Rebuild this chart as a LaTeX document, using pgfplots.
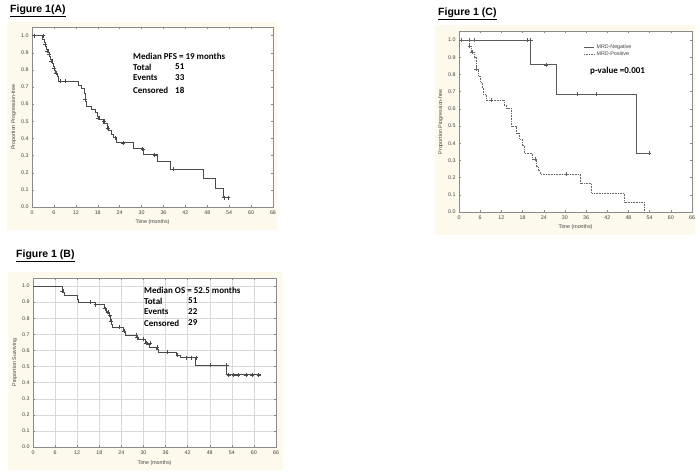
\documentclass[border=0pt]{standalone}
\usepackage{pgfplots}
\pgfplotsset{compat=1.18}
\usepackage{fontspec}
\setmainfont{Liberation Sans}
\newfontfamily\calibri{Carlito}
\definecolor{cream}{HTML}{FDF9EC}
\definecolor{frm}{HTML}{8A8A8A}
\definecolor{kml}{HTML}{4A4A4A}
\pgfplotsset{
  kmaxis/.style={
    scale only axis, anchor=south west,
    xmin=0, xmax=66, ymin=0, ymax=1.05,
    xtick={0,6,12,18,24,30,36,42,48,54,60,66},
    ytick={0,0.1,0.2,0.3,0.4,0.5,0.6,0.7,0.8,0.9,1.0},
    yticklabel style={/pgf/number format/.cd, fixed, fixed zerofill, precision=1},
    /pgf/number format/assume math mode=true,
    tick label style={font=\fontsize{5.3}{6}\selectfont, text=black!75},
    label style={font=\fontsize{5.3}{6}\selectfont, text=black!75},
    axis line style={frm},
    tick style={frm, line width=0.3pt},
    tick align=inside, major tick length=2pt,
    tick pos=both,
    axis background/.style={fill=white},
    xlabel={Time (months)},
    xlabel style={yshift=1pt},
    ylabel style={yshift=-2pt},
  },
  kmline/.style={kml, line width=0.6pt, const plot, no marks},
  cens/.style={kml, only marks, mark=+, mark size=2pt, mark options={line width=0.4pt}, forget plot},
}
\tikzset{
  anno/.style={anchor=west, font=\calibri\bfseries\fontsize{9}{10}\selectfont, inner sep=0},
  ttl/.style={anchor=west, font=\bfseries\fontsize{10.5}{11}\selectfont, inner sep=0},
}
\begin{document}
\begin{tikzpicture}
\fill[white] (0pt,0pt) rectangle (700pt,475pt);
\path[use as bounding box] (0pt,0pt) rectangle (700pt,475pt);
\fill[cream] (7pt,245pt) rectangle (277pt,453pt);
\fill[cream] (435pt,240pt) rectangle (695pt,450pt);
\fill[cream] (8pt,5pt) rectangle (283pt,203pt);

% Titles
\node[ttl] at (10pt,464pt) {\underline{Figure 1(A)}};
\node[ttl] at (438pt,461pt) {\underline{Figure 1 (C)}};
\node[ttl] at (16pt,219pt) {\underline{Figure 1 (B)}};

% Panel A
\begin{axis}[kmaxis, at={(32pt,268pt)}, width=241pt, height=180pt, ylabel={Proportion Progression-free}]
\addplot[kmline] coordinates {
(0,1.0)(2.9,0.98)(3.3,0.96)(3.6,0.94)(4.0,0.92)(4.4,0.90)(4.8,0.88)(5.1,0.86)
(5.5,0.84)(5.9,0.82)(6.2,0.80)(6.5,0.78)(6.8,0.76)(7.2,0.735)(12.8,0.71)(13.4,0.69)
(14.3,0.665)(14.5,0.64)(14.7,0.615)(14.9,0.59)(16.2,0.57)(17.3,0.55)(17.8,0.53)
(18.3,0.51)(19.4,0.49)(20.5,0.47)(21.0,0.445)(21.6,0.425)(22.3,0.405)(23.0,0.375)
(27.8,0.34)(30.4,0.305)(34.3,0.265)(37.8,0.22)(46.8,0.165)(50.3,0.11)(52.3,0.055)(54.0,0.055)};
\addplot[cens] coordinates {
(0.5,1.0)(3.0,1.0)(3.5,0.95)(4.2,0.91)(4.7,0.89)(5.3,0.85)(6.0,0.81)(6.6,0.78)
(7.8,0.735)(9.2,0.735)(14.6,0.63)(18.0,0.52)(19.8,0.50)(20.7,0.46)(22.8,0.405)
(25.0,0.375)(30.3,0.34)(33.6,0.305)(38.8,0.22)(52.6,0.055)(53.8,0.055)};
\end{axis}
\node[anno] at (133pt,419pt) {Median PFS = 19 months};
\node[anno] at (133pt,408pt) {Total};
\node[anno] at (175pt,408pt) {51};
\node[anno] at (133pt,397pt) {Events};
\node[anno] at (175pt,397pt) {33};
\node[anno] at (133pt,385pt) {Censored};
\node[anno] at (175pt,385pt) {18};

% Panel C
\begin{axis}[kmaxis, at={(459pt,263pt)}, width=233pt, height=180.6pt, ylabel={Proportion Progression-free},
  legend style={at={(0.53,0.945)}, anchor=north west, draw=none, fill=none,
    font=\fontsize{5.3}{6}\selectfont, text=black!75, row sep=-2.5pt, inner sep=1pt},
  legend cell align=left,
  legend image code/.code={\draw[#1] (0pt,0pt) -- (10pt,0pt);}]
\addplot[kmline, line width=0.9pt, color=black!65] coordinates {
(0,1.0)(20.3,0.855)(27.7,0.685)(50.3,0.342)(53.8,0.342)};
\addlegendentry{MRD-Negative}
\addplot[kmline, densely dotted, color=black!60] coordinates {
(0,1.0)(2.9,0.965)(3.6,0.93)(4.2,0.90)(4.8,0.83)(5.6,0.79)(6.1,0.755)(6.5,0.72)(6.9,0.685)
(7.6,0.652)(12.8,0.62)(13.5,0.605)(14.7,0.497)(16.3,0.46)(17.1,0.425)(17.8,0.385)
(18.5,0.342)(20.8,0.307)(21.8,0.265)(22.5,0.24)(23.0,0.222)(34.3,0.164)(37.6,0.11)
(46.7,0.056)(52.4,0.0)};
\addlegendentry{MRD-Positive}
\addplot[cens, color=black!65] coordinates {(19.2,1.0)(20.3,1.0)(24.6,0.855)(33.6,0.685)(38.8,0.685)(53.8,0.342)};
\addplot[cens, color=black!60] coordinates {(0.6,1.0)(2.8,1.0)(4.2,1.0)(3.0,0.965)(3.6,0.93)(4.8,0.83)(9.0,0.652)(21.5,0.307)(30.3,0.222)};
\end{axis}
\node[anno] at (590pt,404pt) {p-value =0.001};

% Panel B
\begin{axis}[kmaxis, at={(33pt,28pt)}, width=243pt, height=169pt, ylabel={Proportion Surviving},
  grid=major, grid style={black!15, line width=0.4pt}]
\addplot[kmline] coordinates {
(0,1.0)(7.9,0.98)(8.1,0.96)(8.4,0.94)(12.0,0.92)(12.4,0.90)(16.8,0.885)(19.3,0.86)
(19.8,0.845)(20.1,0.83)(20.6,0.81)(21.0,0.79)(21.3,0.765)(21.6,0.745)(24.4,0.72)
(25.0,0.695)(28.2,0.68)(28.6,0.67)(30.4,0.65)(31.0,0.64)(31.5,0.62)(33.5,0.61)
(33.9,0.59)(39.0,0.57)(39.9,0.555)(44.2,0.507)(52.6,0.449)(61.8,0.449)};
\addplot[cens] coordinates {
(8.0,0.97)(15.6,0.90)(17.0,0.885)(19.5,0.86)(20.3,0.84)(20.8,0.82)(21.3,0.78)
(23.3,0.745)(24.8,0.72)(27.9,0.695)(28.3,0.68)(30.0,0.67)(30.8,0.645)(31.8,0.645)
(33.7,0.62)(36.5,0.59)(39.3,0.57)(41.5,0.555)(43.1,0.555)(44.3,0.555)(48.2,0.507)
(52.6,0.507)(53.1,0.449)(54.5,0.449)(55.7,0.449)(57.8,0.449)(59.5,0.449)(61.3,0.449)};
\end{axis}
\node[anno] at (144pt,185pt) {Median OS = 52.5 months};
\node[anno] at (144pt,174pt) {Total};
\node[anno] at (188pt,174pt) {51};
\node[anno] at (144pt,163pt) {Events};
\node[anno] at (188pt,163pt) {22};
\node[anno] at (144pt,152pt) {Censored};
\node[anno] at (188pt,152pt) {29};
\end{tikzpicture}
\end{document}
